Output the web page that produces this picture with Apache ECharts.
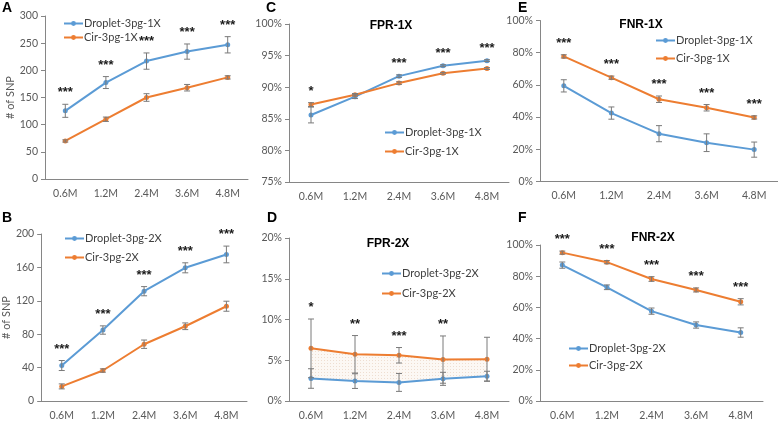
<!DOCTYPE html>
<html><head><meta charset="utf-8">
<script src="https://cdn.jsdelivr.net/npm/echarts@6/dist/echarts.min.js"></script>
<style>html,body{margin:0;padding:0;background:#fff}#c{width:778px;height:421px}</style>
</head><body><div id="c"></div>
<script>
// ---------- data ----------
const categories = ['0.6M', '1.2M', '2.4M', '3.6M', '4.8M'];

// A: # of SNP, 1X
const aDroplet    = [125.5, 177.5, 217, 234.5, 247];
const aDropletErr = [12, 11, 15, 14, 15];
const aCir        = [70, 110, 150, 168, 187];
const aCirErr     = [2, 4, 7, 6, 3];
const aSig        = ['***', '***', '***', '***', '***'];

// B: # of SNP, 2X
const bDroplet    = [42.5, 85, 131.5, 159.5, 175.5];
const bDropletErr = [6, 5, 5.5, 6, 10];
const bCir        = [17.5, 36.5, 68, 89.5, 113.5];
const bCirErr     = [3, 2, 5, 4, 6];
const bSig        = ['***', '***', '***', '***', '***'];

// C: FPR-1X (%)
const cDroplet    = [85.6, 88.5, 91.75, 93.4, 94.2];
const cDropletErr = [1.25, 0.3, 0.2, 0.15, 0.15];
const cCir        = [87.25, 88.8, 90.65, 92.2, 92.95];
const cCirErr     = [0.3, 0.2, 0.2, 0.15, 0.15];
const cSig        = ['*', '', '***', '***', '***'];

// D: FPR-2X (%)
const dDroplet    = [2.76, 2.44, 2.28, 2.72, 3.05];
const dDropletErr = [1.2, 0.9, 1.1, 0.8, 0.6];
const dCir        = [6.46, 5.73, 5.61, 5.08, 5.12];
const dCirErr     = [3.6, 2.3, 0.95, 2.9, 2.7];
const dSig        = ['*', '**', '***', '**', ''];

// E: FNR-1X (%)
const eDroplet    = [59.4, 42.5, 29.7, 24.1, 19.8];
const eDropletErr = [3.8, 3.8, 5, 5.5, 4.7];
const eCir        = [77.7, 64.5, 51.1, 45.8, 39.8];
const eCirErr     = [1, 1, 2, 2, 1];
const eSig        = ['***', '***', '***', '***', '***'];

// F: FNR-2X (%)
const fDroplet    = [87.1, 72.9, 57.6, 48.7, 43.9];
const fDropletErr = [2, 1.5, 2, 2, 3];
const fCir        = [95.1, 89, 78.2, 71.2, 63.6];
const fCirErr     = [1, 1, 1.5, 1.3, 2];
const fSig        = ['***', '***', '***', '***', '***'];

const names1X = ['Droplet-3pg-1X', 'Cir-3pg-1X'];
const names2X = ['Droplet-3pg-2X', 'Cir-3pg-2X'];

// ---------- layout / style ----------
const BLUE = '#5B9BD5', ORANGE = '#ED7D31', AXIS = '#868686', LABEL = '#595959', ERR = '#7a7a7a';
const FONT = 'Lato, "Liberation Sans", sans-serif';

const panels = [
  { grid: {left: 45, top: 16, width: 203, height: 163}, y: {min: 0, max: 300, interval: 50, pct: false, name: '# of SNP'},
    names: names1X, droplet: aDroplet, dErr: aDropletErr, cir: aCir, cErr: aCirErr, sig: aSig,
    legend: {left: 63, top: 18, itemGap: 3} },
  { grid: {left: 40, top: 234, width: 207, height: 168}, y: {min: 0, max: 200, interval: 40, pct: false, name: '# of SNP'},
    names: names2X, droplet: bDroplet, dErr: bDropletErr, cir: bCir, cErr: bCirErr, sig: bSig,
    legend: {left: 64, top: 233, itemGap: 8} },
  { grid: {left: 289, top: 24, width: 220, height: 158}, y: {min: 75, max: 100, interval: 5, pct: true},
    names: names1X, droplet: cDroplet, dErr: cDropletErr, cir: cCir, cErr: cCirErr, sig: cSig,
    legend: {left: 384, top: 127, itemGap: 8} },
  { grid: {left: 289, top: 238, width: 220, height: 164}, y: {min: 0, max: 20, interval: 5, pct: true},
    names: names2X, droplet: dDroplet, dErr: dDropletErr, cir: dCir, cErr: dCirErr, sig: dSig, fill: true,
    legend: {left: 381, top: 268, itemGap: 9} },
  { grid: {left: 540, top: 20.5, width: 238, height: 161}, y: {min: 0, max: 100, interval: 20, pct: true},
    names: names1X, droplet: eDroplet, dErr: eDropletErr, cir: eCir, cErr: eCirErr, sig: eSig,
    legend: {left: 655, top: 35, itemGap: 7} },
  { grid: {left: 540, top: 245, width: 223, height: 157}, y: {min: 0, max: 100, interval: 20, pct: true},
    names: names2X, droplet: fDroplet, dErr: fDropletErr, cir: fCir, cErr: fCirErr, sig: fSig,
    legend: {left: 568, top: 343, itemGap: 6} }
];

const titles = [
  {text: 'A', x: 2, y: 1, letter: true}, {text: 'B', x: 2, y: 211.5, letter: true},
  {text: 'C', x: 266, y: 1, letter: true}, {text: 'D', x: 267, y: 211.5, letter: true},
  {text: 'E', x: 518, y: 1, letter: true}, {text: 'F', x: 518, y: 211.5, letter: true},
  {text: 'FPR-1X', x: 391, y: 26}, {text: 'FPR-2X', x: 388, y: 244},
  {text: 'FNR-1X', x: 641, y: 25}, {text: 'FNR-2X', x: 653, y: 238}
];

// faint dotted fill pattern for panel D
const pat = document.createElement('canvas');
pat.width = 3; pat.height = 3;
(function () {
  const g = pat.getContext('2d');
  g.fillStyle = 'rgba(252,248,244,1)';
  g.fillRect(0, 0, 3, 3);
  g.fillStyle = 'rgba(225,200,180,0.55)';
  g.fillRect(0, 0, 1, 1);
})();

function errSeries(gi, vals, errs) {
  return {
    type: 'custom', xAxisIndex: gi, yAxisIndex: gi, silent: true, z: 4,
    data: vals.map((v, i) => [i, v - errs[i], v + errs[i]]),
    renderItem(params, api) {
      const lo = api.coord([api.value(0), api.value(1)]);
      const hi = api.coord([api.value(0), api.value(2)]);
      const w = 3, st = {stroke: ERR, lineWidth: 1};
      return {type: 'group', children: [
        {type: 'line', shape: {x1: lo[0], y1: lo[1], x2: hi[0], y2: hi[1]}, style: st},
        {type: 'line', shape: {x1: lo[0] - w, y1: lo[1], x2: lo[0] + w, y2: lo[1]}, style: st},
        {type: 'line', shape: {x1: hi[0] - w, y1: hi[1], x2: hi[0] + w, y2: hi[1]}, style: st}
      ]};
    }
  };
}

function sigSeries(gi, p) {
  return {
    type: 'custom', xAxisIndex: gi, yAxisIndex: gi, silent: true, z: 5,
    data: p.sig.map((s, i) => [i, Math.max(p.droplet[i] + p.dErr[i], p.cir[i] + p.cErr[i])]),
    renderItem(params, api) {
      const pt = api.coord([api.value(0), api.value(1)]);
      const s = p.sig[params.dataIndex];
      if (!s) return null;
      return {type: 'text', x: pt[0], y: pt[1] - 5,
        style: {text: s, textAlign: 'center', textVerticalAlign: 'bottom',
          font: 'bold 13px "Liberation Sans", Arial, sans-serif', fill: '#1a1a1a'}};
    }
  };
}

function fillSeries(gi, p) {
  return {
    type: 'custom', xAxisIndex: gi, yAxisIndex: gi, silent: true, z: 1,
    data: categories.slice(1).map((c, i) => [i]),
    renderItem(params, api) {
      const i = params.dataIndex;
      const a = api.coord([i, p.cir[i]]), b = api.coord([i + 1, p.cir[i + 1]]);
      const c = api.coord([i + 1, p.droplet[i + 1]]), d = api.coord([i, p.droplet[i]]);
      return {type: 'polygon', shape: {points: [a, b, c, d]},
        style: {fill: {image: pat, repeat: 'repeat'}, stroke: null}};
    }
  };
}

const option = {
  backgroundColor: '#fff',
  animation: false,
  textStyle: {fontFamily: FONT},
  grid: panels.map(p => Object.assign({containLabel: false}, p.grid)),
  xAxis: panels.map((p, i) => ({
    type: 'category', gridIndex: i, data: categories, boundaryGap: true,
    axisLine: {show: true, lineStyle: {color: AXIS, width: 1}},
    axisTick: {show: false},
    axisLabel: {color: LABEL, fontSize: 10.5, fontFamily: FONT, margin: 9},
    splitLine: {show: false}
  })),
  yAxis: panels.map((p, i) => ({
    type: 'value', gridIndex: i, min: p.y.min, max: p.y.max, interval: p.y.interval,
    name: p.y.name || '', nameLocation: 'middle', nameGap: 25,
    nameTextStyle: {color: LABEL, fontSize: 11, fontFamily: FONT},
    axisLine: {show: true, lineStyle: {color: AXIS, width: 1}},
    axisTick: {show: true, length: 4, lineStyle: {color: AXIS}},
    axisLabel: {color: LABEL, fontSize: 10.5, fontFamily: FONT, margin: 7,
      formatter: p.y.pct ? '{value}%' : '{value}'},
    splitLine: {show: false}
  })),
  legend: panels.map(p => ({
    left: p.legend.left, top: p.legend.top, orient: 'vertical', itemGap: p.legend.itemGap,
    itemWidth: 19, itemHeight: 6, data: p.names,
    textStyle: {color: '#404040', fontSize: 11, fontFamily: FONT, padding: [0, 0, 0, -4]},
    selectedMode: false, padding: 0
  })),
  graphic: titles.map(t => ({
    type: 'text', x: t.x, y: t.y, silent: true,
    style: t.letter
      ? {text: t.text, font: 'bold 14px "Liberation Sans", Arial, sans-serif', fill: '#000', textVerticalAlign: 'top'}
      : {text: t.text, font: 'bold 12px "Liberation Sans", Arial, sans-serif', fill: '#000', textAlign: 'center', textVerticalAlign: 'middle'}
  })),
  series: []
};

panels.forEach((p, gi) => {
  if (p.fill) option.series.push(fillSeries(gi, p));
  option.series.push({
    name: p.names[0], type: 'line', xAxisIndex: gi, yAxisIndex: gi, data: p.droplet,
    symbol: 'circle', symbolSize: 5, color: BLUE, lineStyle: {width: 2, color: BLUE}, z: 3
  });
  option.series.push({
    name: p.names[1], type: 'line', xAxisIndex: gi, yAxisIndex: gi, data: p.cir,
    symbol: 'circle', symbolSize: 5, color: ORANGE, lineStyle: {width: 2, color: ORANGE}, z: 3
  });
  option.series.push(errSeries(gi, p.droplet, p.dErr));
  option.series.push(errSeries(gi, p.cir, p.cErr));
  option.series.push(sigSeries(gi, p));
});

const chart = echarts.init(document.getElementById('c'), null, {renderer: 'canvas'});
chart.setOption(option);
</script>
</body></html>
